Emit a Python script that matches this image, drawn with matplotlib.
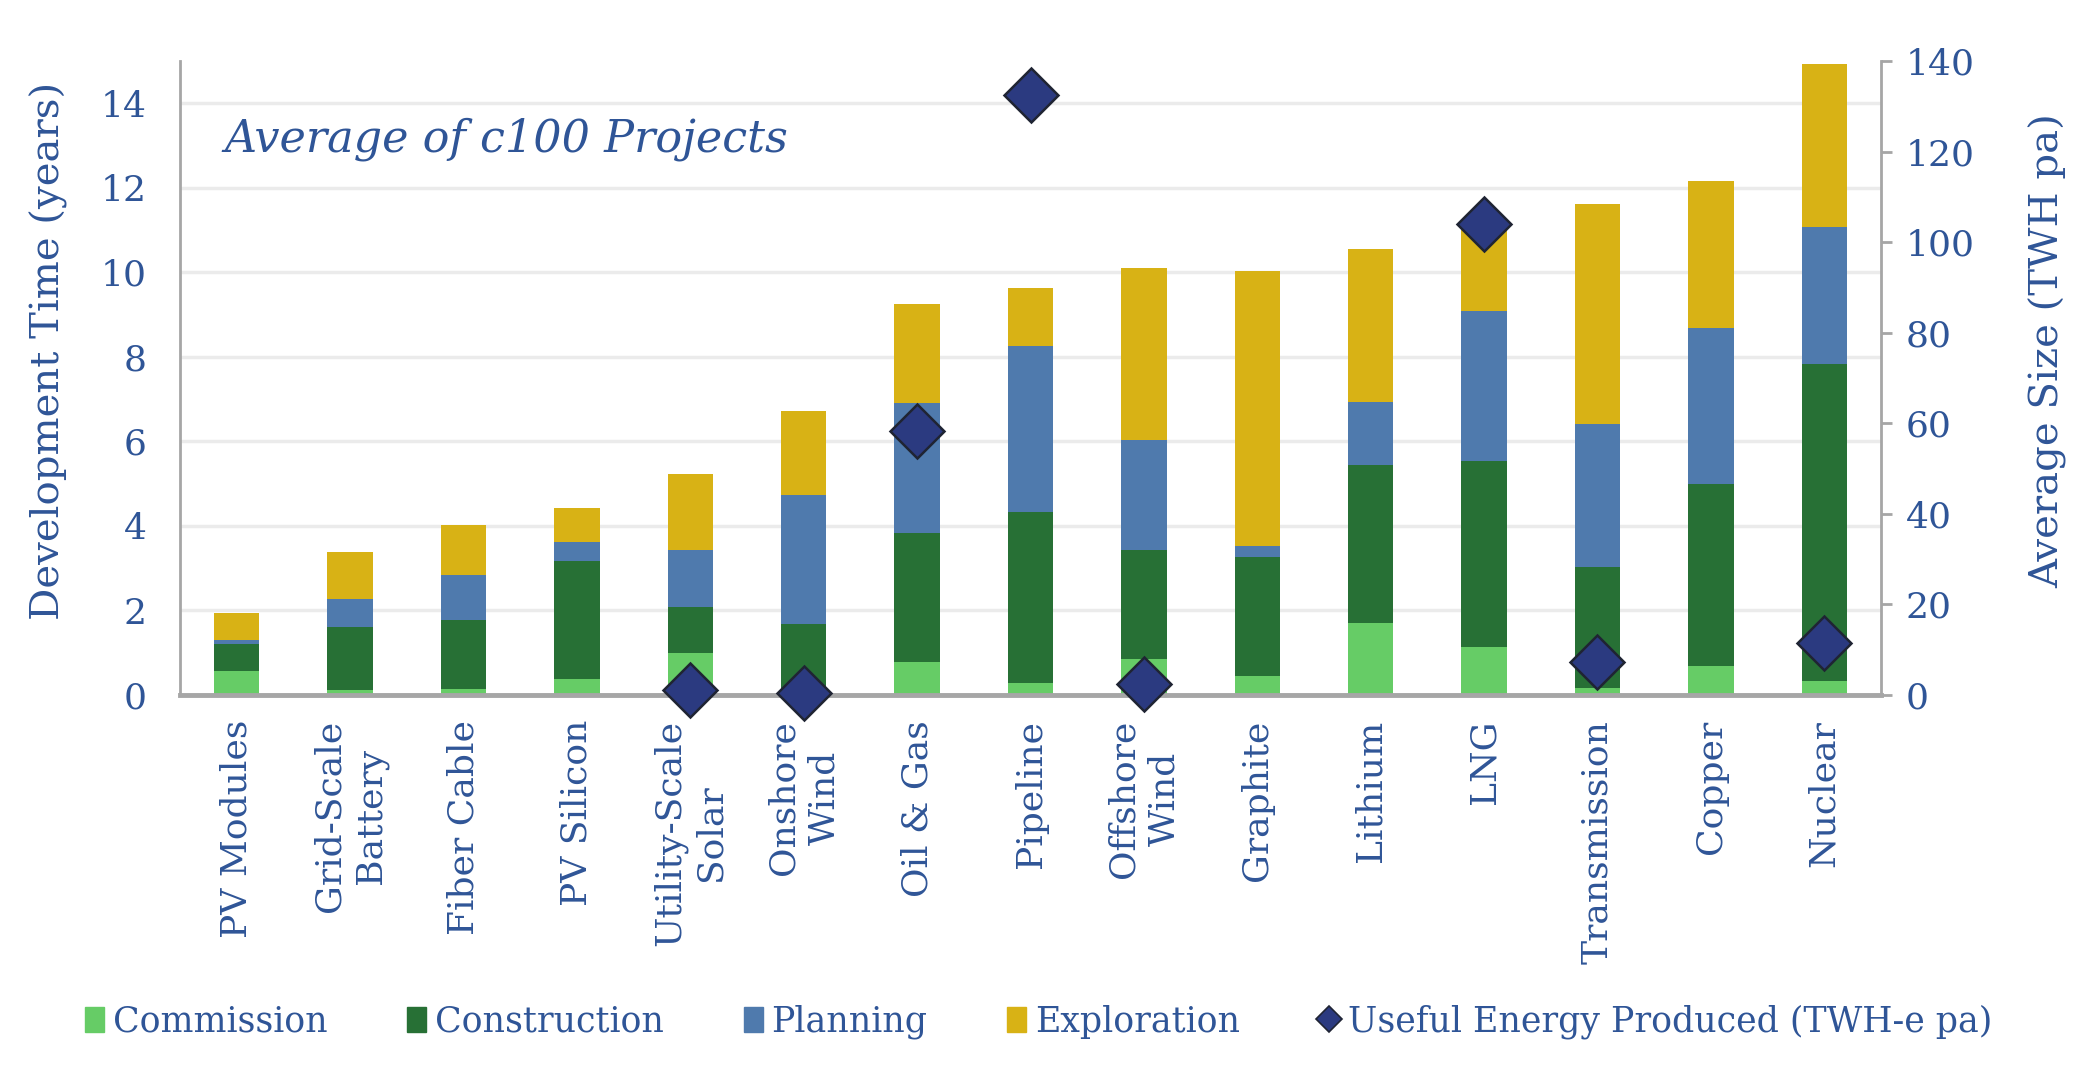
import numpy as np
import matplotlib
matplotlib.use("Agg")
import matplotlib.pyplot as plt
from matplotlib.lines import Line2D
from matplotlib.patches import Patch

categories = ["PV Modules", "Grid-Scale\nBattery", "Fiber Cable", "PV Silicon",
              "Utility-Scale\nSolar", "Onshore\nWind", "Oil & Gas", "Pipeline",
              "Offshore\nWind", "Graphite", "Lithium", "LNG", "Transmission",
              "Copper", "Nuclear"]

# cumulative tops (years)
commission_top   = [0.57, 0.11, 0.14, 0.38, 1.00, 0.05, 0.78, 0.28, 0.84, 0.45, 1.71, 1.13, 0.17, 0.69, 0.32]
construction_top = [1.21, 1.61, 1.77, 3.18, 2.08, 1.68, 3.84, 4.32, 3.42, 3.26, 5.45, 5.54, 3.02, 4.98, 7.82]
planning_top     = [1.29, 2.27, 2.85, 3.61, 3.43, 4.74, 6.91, 8.25, 6.04, 3.53, 6.94, 9.08, 6.40, 8.69, 11.08]
exploration_top  = [1.95, 3.39, 4.02, 4.42, 5.23, 6.71, 9.26, 9.64, 10.10, 10.03, 10.55, 11.00, 11.61, 12.17, 14.93]

# useful energy produced (TWH-e pa), right axis
energy = [np.nan, np.nan, np.nan, np.nan, 1.1, 0.5, 58.2, 132.6, 2.4, np.nan,
          np.nan, 103.9, 7.2, np.nan, 11.4]

commission = np.array(commission_top)
construction = np.array(construction_top) - np.array(commission_top)
planning = np.array(planning_top) - np.array(construction_top)
exploration = np.array(exploration_top) - np.array(planning_top)

txt = "#2f5597"
c_comm, c_cons, c_plan, c_expl = "#66cc66", "#277035", "#4f7aad", "#d8b215"
grey = "#a6a6a6"

plt.rcParams['font.family'] = ['DejaVu Serif']

fig = plt.figure(figsize=(20.77, 10.70), dpi=100)
ax = fig.add_axes([0.0867, 0.3505, 0.8189, 0.5925])
x = np.arange(len(categories))
w = 0.4

ax.bar(x, commission, w, color=c_comm, zorder=2)
ax.bar(x, construction, w, bottom=commission, color=c_cons, zorder=2)
ax.bar(x, planning, w, bottom=np.array(construction_top), color=c_plan, zorder=2)
ax.bar(x, exploration, w, bottom=np.array(planning_top), color=c_expl, zorder=2)

ax.set_xlim(-0.5, len(categories) - 0.5)
ax.set_ylim(0, 15)
ax.set_yticks(range(0, 15, 2))
ax.grid(axis='y', color="#ebebeb", linewidth=2.5, zorder=0)
ax.set_axisbelow(True)
ax.set_xticks(x)
ax.set_xticklabels(categories, rotation=90, ha='center', va='top',
                   fontsize=26, color=txt, linespacing=1.25)
ax.tick_params(axis='x', length=0, pad=18)
ax.tick_params(axis='y', length=0, labelsize=26, labelcolor=txt, pad=24)
ax.set_ylabel("Development Time (years)", fontsize=29, color=txt)
ax.yaxis.set_label_coords(-0.066, 0.543)
for s in ['top', 'right']:
    ax.spines[s].set_visible(False)
ax.spines['left'].set_color(grey)
ax.spines['left'].set_linewidth(2)
ax.spines['bottom'].set_color(grey)
ax.spines['bottom'].set_linewidth(3.5)

ax.text(0.026, 0.877, "Average of c100 Projects", transform=ax.transAxes,
        fontsize=32, style='italic', color=txt, va='center', ha='left')

ax2 = ax.twinx()
ax2.set_ylim(0, 140)
ax2.set_yticks(range(0, 141, 20))
ax2.plot(x, energy, linestyle='none', marker='D', markersize=28,
         markerfacecolor="#2b3a80", markeredgecolor="#1f2433",
         markeredgewidth=1.8, zorder=5, clip_on=False)
ax2.tick_params(axis='y', length=8, width=2, color=grey, labelsize=26,
                labelcolor=txt, pad=10)
for s in ['top', 'left', 'bottom']:
    ax2.spines[s].set_visible(False)
ax2.spines['right'].set_color(grey)
ax2.spines['right'].set_linewidth(2)
ax2.set_ylabel("Average Size (TWH pa)", fontsize=29, color=txt)
ax2.yaxis.set_label_coords(1.087, 0.543)

handles = [Patch(color=c_comm), Patch(color=c_cons), Patch(color=c_plan),
           Patch(color=c_expl),
           Line2D([], [], linestyle='none', marker='D', markersize=13,
                  markerfacecolor="#2b3a80", markeredgecolor="#1f2433",
                  markeredgewidth=1.2)]
labels = ["Commission", "Construction", "Planning", "Exploration",
          "Useful Energy Produced (TWH-e pa)"]
leg = fig.legend(handles, labels, loc='center', bbox_to_anchor=(0.5, 0.045),
                 ncol=5, frameon=False, fontsize=25, handlelength=0.55,
                 handleheight=0.75, handletextpad=0.25, columnspacing=2.3)
for t in leg.get_texts():
    t.set_color(txt)

fig.savefig("out.png", dpi=100)
